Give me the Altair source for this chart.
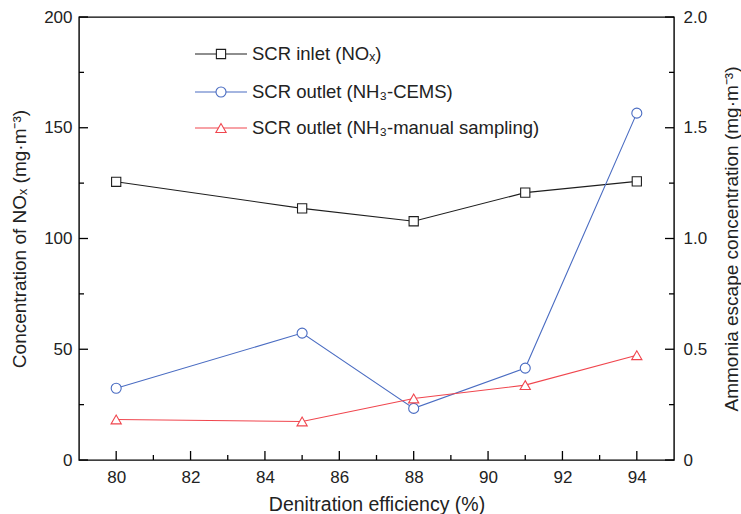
import altair as alt
import pandas as pd

# ---------------- data ----------------
efficiency = [80, 85, 88, 91, 94]
nox_inlet = [125.6, 113.6, 107.8, 120.7, 125.8]      # mg/m3, left axis
nh3_cems = [0.324, 0.573, 0.233, 0.415, 1.566]       # mg/m3, right axis
nh3_manual = [0.183, 0.174, 0.278, 0.338, 0.473]     # mg/m3, right axis

series_names = ["SCR inlet (NOₓ)", "SCR outlet (NH₃-CEMS)", "SCR outlet (NH₃-manual sampling)"]
series_colors = ["#1e1e1e", "#4a6cc2", "#f0464e"]
series_shapes = ["square", "circle", "triangle-up"]
series_sizes = [85, 100, 105]

x_major = [80, 82, 84, 86, 88, 90, 92, 94]
x_minor = [81, 83, 85, 87, 89, 91, 93]
yl_major = [0, 50, 100, 150, 200]
yl_minor = [25, 75, 125, 175]
yr_major = [0, 0.5, 1.0, 1.5, 2.0]
yr_minor = [0.25, 0.75, 1.25, 1.75]

W, H = 595, 443
FONT = "Liberation Sans"
TXT = "#222222"

xs = alt.Scale(domain=[79, 95], nice=False, zero=False)
yls = alt.Scale(domain=[0, 200], nice=False)
yrs = alt.Scale(domain=[0, 2.0], nice=False)

df_in = pd.DataFrame({"eff": efficiency, "v": nox_inlet})
df_cems = pd.DataFrame({"eff": efficiency, "v": nh3_cems})
df_man = pd.DataFrame({"eff": efficiency, "v": nh3_manual})

x_axis = alt.Axis(values=x_major, ticks=False, domain=False, grid=False,
                  labelFontSize=17, labelPadding=9, labelColor=TXT, labelFont=FONT,
                  title="Denitration efficiency (%)", titleFontSize=19.5,
                  titleFontWeight="normal", titleColor=TXT, titleFont=FONT, titlePadding=10)
left_axis = alt.Axis(values=yl_major, ticks=False, domain=False, grid=False,
                     labelFontSize=17, labelPadding=7, labelColor=TXT, labelFont=FONT,
                     title="Concentration of NOₓ (mg·m⁻³)", titleFontSize=19,
                     titleFontWeight="normal", titleColor=TXT, titleFont=FONT, titlePadding=14,
                     orient="left")
right_axis = alt.Axis(values=yr_major, ticks=False, domain=False, grid=False,
                      labelFontSize=17, labelPadding=9, labelColor=TXT, labelFont=FONT,
                      labelExpr="datum.value == 0 ? '0' : format(datum.value, '.1f')",
                      title="Ammonia escape concentration (mg·m⁻³)", titleFontSize=19,
                      titleFontWeight="normal", titleColor=TXT, titleFont=FONT, titlePadding=16,
                      titleAngle=270, titleBaseline="top",
                      orient="right")


def series_layer(df, idx, yscale, axis):
    base = alt.Chart(df).encode(
        x=alt.X("eff:Q", scale=xs, axis=x_axis),
        y=alt.Y("v:Q", scale=yscale, axis=axis),
    )
    line = base.mark_line(color=series_colors[idx], strokeWidth=1.1)
    pts = base.mark_point(shape=series_shapes[idx], size=series_sizes[idx], filled=True,
                          fill="white", stroke=series_colors[idx], strokeWidth=1.1, opacity=1)
    return line + pts


# inward ticks
def xticks(vals, L):
    return alt.Chart(pd.DataFrame({"t": vals})).mark_rule(color="black", strokeWidth=1.3).encode(
        x=alt.X("t:Q", scale=xs, axis=x_axis), y=alt.value(H), y2=alt.value(H - L))


def yticks(vals, scale, axis, L, right=False):
    x0 = W if right else 0
    x1 = W - L if right else L
    return alt.Chart(pd.DataFrame({"t": vals})).mark_rule(color="black", strokeWidth=1.3).encode(
        y=alt.Y("t:Q", scale=scale, axis=axis), x=alt.value(x0), x2=alt.value(x1))


# legend
leg_y = [37, 75, 111]
legend_layers = []
for i in range(3):
    d = pd.DataFrame({"name": [series_names[i]]})
    legend_layers.append(alt.Chart(d).mark_rule(color=series_colors[i], strokeWidth=1.1).encode(
        x=alt.value(116), x2=alt.value(168), y=alt.value(leg_y[i])))
    legend_layers.append(alt.Chart(d).mark_point(shape=series_shapes[i], size=series_sizes[i], filled=True,
                                                 fill="white", stroke=series_colors[i], strokeWidth=1.1,
                                                 opacity=1).encode(
        x=alt.value(142), y=alt.value(leg_y[i])))
    legend_layers.append(alt.Chart(d).mark_text(align="left", baseline="middle", fontSize=18.5,
                                                font=FONT, color=TXT).encode(
        x=alt.value(173), y=alt.value(leg_y[i]), text="name:N"))

left_group = alt.layer(
    series_layer(df_in, 0, yls, left_axis),
    xticks(x_major, 9), xticks(x_minor, 5),
    yticks(yl_major, yls, left_axis, 9), yticks(yl_minor, yls, left_axis, 5),
    *legend_layers,
)
right_group = alt.layer(
    series_layer(df_cems, 1, yrs, right_axis),
    series_layer(df_man, 2, yrs, right_axis),
    yticks(yr_major, yrs, right_axis, 9, right=True), yticks(yr_minor, yrs, right_axis, 5, right=True),
)

chart = alt.layer(left_group, right_group).resolve_scale(y="independent").properties(
    width=W, height=H,
    autosize=alt.AutoSizeParams(type="none"),
    padding={"left": 79, "top": 17, "right": 67, "bottom": 54},
    background="white",
).configure_view(stroke="black", strokeWidth=1.4)

chart.save("out.html", embed_options={"renderer": "svg", "actions": False})
